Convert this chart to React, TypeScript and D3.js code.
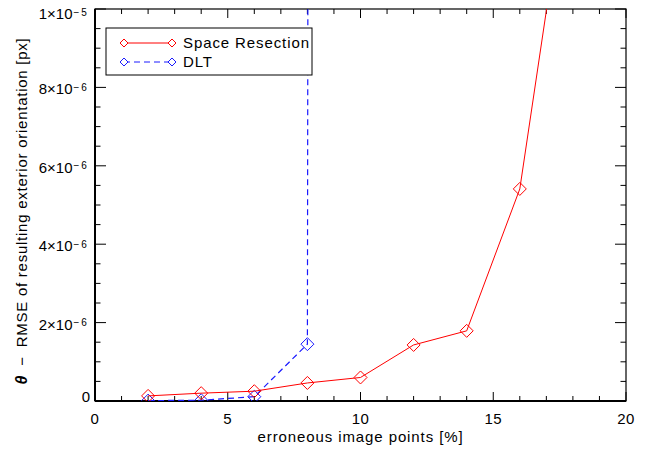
import React from 'react';
import * as d3 from 'd3';

const xValues = [2, 4, 6, 8, 10, 12, 14, 16, 18];
const resectionValues = [0.13e-6, 0.2e-6, 0.25e-6, 0.46e-6, 0.6e-6, 1.43e-6, 1.79e-6, 5.41e-6, 14.5e-6];
const dltX = [2, 4, 6, 8, 10];
const dltValues = [0.01e-6, 0.02e-6, 0.11e-6, 1.45e-6, 1e-3];
const xMajor = [0, 5, 10, 15, 20];
const yMajor = [0, 2e-6, 4e-6, 6e-6, 8e-6, 1e-5];
const yLabels = [['0', ''], ['2', '−6'], ['4', '−6'], ['6', '−6'], ['8', '−6'], ['1', '−5']];

const W = 645, H = 450;
const margin = { top: 9, right: 19, bottom: 49, left: 95 };
const font = "'Liberation Sans', Arial, sans-serif";
const BLUE = '#1a1aff';

const diamond = (cx: number, cy: number, r: number) =>
  `M${cx},${cy - r}L${cx + r},${cy}L${cx},${cy + r}L${cx - r},${cy}Z`;

const App = () => {
  const x = d3.scaleLinear().domain([0, 20]).range([margin.left, W - margin.right]);
  const y = d3.scaleLinear().domain([0, 1e-5]).range([H - margin.bottom, margin.top]);
  const x0 = x.range()[0], x1 = x.range()[1];
  const y0 = y.range()[0], y1 = y.range()[1];

  const line = d3.line<[number, number]>().x(d => x(d[0])).y(d => y(d[1]));
  const red = xValues.map((v, i) => [v, resectionValues[i]] as [number, number]);
  const blue = dltX.map((v, i) => [v, dltValues[i]] as [number, number]);

  const xMinor = d3.range(0, 21, 1);
  const yMinor = d3.range(0, 21).map(i => i * 5e-7);

  // label baseline: top label is pushed down so it stays inside the page
  const labelY = (v: number, i: number) => {
    if (i === 0) return y(v) + 1;
    const base = y(v) + 7;
    return Math.max(base, 19);
  };

  return (
    <svg width={W} height={H} style={{ position: 'absolute', left: 0, top: 0, background: '#fff' }}
      fontFamily={font}>
      <defs>
        <clipPath id="plot">
          <rect x={x0} y={y1} width={x1 - x0} height={y0 - y1} />
        </clipPath>
      </defs>

      {/* ticks on all four sides */}
      {xMinor.map(v => {
        const len = v % 5 === 0 ? 9 : 5;
        return (
          <g key={'xt' + v} stroke="#000" strokeWidth={1}>
            <line x1={x(v)} x2={x(v)} y1={y0} y2={y0 - len} />
            <line x1={x(v)} x2={x(v)} y1={y1} y2={y1 + len} />
          </g>
        );
      })}
      {yMinor.map((v, i) => {
        const len = i % 4 === 0 ? 11 : 5.5;
        return (
          <g key={'yt' + i} stroke="#000" strokeWidth={1}>
            <line x1={x0} x2={x0 + len} y1={y(v)} y2={y(v)} />
            <line x1={x1} x2={x1 - len} y1={y(v)} y2={y(v)} />
          </g>
        );
      })}
      <rect x={x0} y={y1} width={x1 - x0} height={y0 - y1} fill="none" stroke="#000" strokeWidth={1.2} />
      <line x1={x0} x2={x1} y1={y0} y2={y0} stroke="#000" strokeWidth={2} />
      <line x1={x0} x2={x0} y1={y0} y2={y1} stroke="#000" strokeWidth={2} />

      {/* tick labels */}
      {xMajor.map(v => (
        <text key={'xl' + v} x={x(v)} y={y0 + 23} textAnchor="middle" fontSize={15} letterSpacing={0.5}>{v}</text>
      ))}
      {yMajor.map((v, i) => (
        <text key={'yl' + i} x={yLabels[i][1] ? 72.5 : 90} y={labelY(v, i)} textAnchor="end" fontSize={15}>
          {yLabels[i][1] ? `${yLabels[i][0]}×10` : yLabels[i][0]}
        </text>
      ))}
      {yMajor.map((v, i) => yLabels[i][1] ? (
        <text key={'ye' + i} x={73.5} y={labelY(v, i) - 3.4} fontSize={10} letterSpacing={1.8}>{yLabels[i][1]}</text>
      ) : null)}

      {/* axis titles */}
      <text x={(x0 + x1) / 2} y={442} textAnchor="middle" fontSize={15} letterSpacing={0.9}>
        erroneous image points [%]
      </text>
      <text transform={`translate(26.5,211) rotate(-90)`} textAnchor="middle" fontSize={15} letterSpacing={0.75}>
        <tspan fontWeight="bold" fontStyle="italic" fontSize={16}>θ</tspan>
        <tspan dx={9}>−</tspan>
        <tspan dx={9}>RMSE of resulting exterior orientation [px]</tspan>
      </text>

      {/* data */}
      <g clipPath="url(#plot)">
        <path d={line(blue) || ''} fill="none" stroke={BLUE} strokeWidth={1.2} strokeDasharray="6,4" />
        {blue.map((d, i) => (
          <path key={'bd' + i} d={diamond(x(d[0]), y(d[1]), 6.5)} fill="none" stroke={BLUE} strokeWidth={1} />
        ))}
        <path d={line(red) || ''} fill="none" stroke="#ff0000" strokeWidth={1} />
        {red.map((d, i) => (
          <path key={'rd' + i} d={diamond(x(d[0]), y(d[1]), 6.5)} fill="none" stroke="#ff0000" strokeWidth={1} />
        ))}
      </g>

      {/* legend */}
      <rect x={106} y={28} width={206} height={47} fill="#fff" stroke="#000" strokeWidth={1} />
      <line x1={124} x2={172} y1={43} y2={43} stroke="#ff0000" strokeWidth={1} />
      <path d={diamond(124, 43, 4)} fill="#fff" stroke="#ff0000" />
      <path d={diamond(172, 43, 4)} fill="#fff" stroke="#ff0000" />
      <text x={183} y={48} fontSize={15} letterSpacing={0.9}>Space Resection</text>
      <line x1={124} x2={172} y1={62} y2={62} stroke={BLUE} strokeWidth={1} strokeDasharray="6,4" />
      <path d={diamond(124, 62, 4)} fill="#fff" stroke={BLUE} />
      <path d={diamond(172, 62, 4)} fill="#fff" stroke={BLUE} />
      <text x={183} y={67} fontSize={15} letterSpacing={0.9}>DLT</text>
    </svg>
  );
};

export default App;
